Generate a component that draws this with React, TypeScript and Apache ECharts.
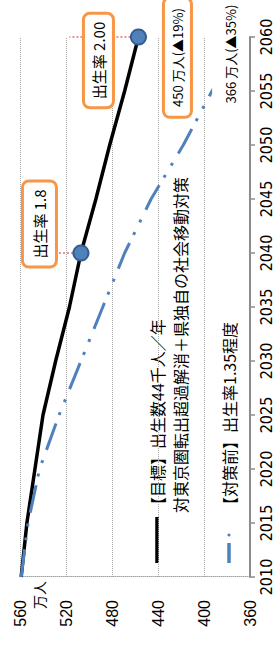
import React, { useEffect, useRef } from "react";
import * as echarts from "echarts";

// ---- data ----
const years = [2010, 2015, 2020, 2025, 2030, 2035, 2040, 2045, 2050, 2055, 2060];
const targetValues = [559, 554, 547, 540, 529, 517, 507, 494, 482, 469, 457];
const baselineValues = [559, 553, 543, 526, 507, 488, 469, 446, 418, 393, 366];
const valueTicks = { min: 360, max: 560, interval: 40 };
const yearTicks = { min: 2010, max: 2060, interval: 5 };
const legendTarget = ["【目標】出生数44千人／年", "対東京圏転出超過解消＋県独自の社会移動対策"];
const legendBaseline = "【対策前】出生率1.35程度";
const unitLabel = "万人";
const birthRate2040 = "出生率 1.8";
const birthRate2060 = "出生率 2.00";
const targetNote = "450 万人(▲19%)";
const baselineNote = "366 万人(▲35%)";

const W = 653;
const H = 280;
const CJK = "'Noto Sans CJK JP', sans-serif";
const ORANGE = "#f79646";
const BLUE = "#4f81bd";

export default function App() {
  const ref = useRef<HTMLDivElement>(null);
  useEffect(() => {
    if (!ref.current) return;
    const chart = echarts.init(ref.current, null, { renderer: "svg", width: W, height: H });

    const boxLabel = (text: string, offset: number[], fontSize: number, padding: number[]) => ({
      show: true,
      position: "inside",
      offset,
      formatter: text,
      color: "#000",
      fontSize,
      fontFamily: CJK,
      backgroundColor: "#fff",
      borderColor: ORANGE,
      borderWidth: 3,
      borderRadius: 5,
      padding,
    });

    const targetData = years.map((y, i) => {
      const v = targetValues[i];
      if (y === 2040) {
        return {
          value: [y, v],
          symbol: "circle",
          symbolSize: 15,
          label: boxLabel(birthRate2040, [29, -41.5], 15, [8, 7]),
        };
      }
      if (y === 2060) {
        return {
          value: [y, v],
          symbol: "circle",
          symbolSize: 15,
          label: boxLabel(birthRate2060, [-23.5, -40], 15, [6, 7]),
        };
      }
      return { value: [y, v] };
    });

    const baselineData = years.map((y, i) => [y, baselineValues[i]]);

    const last = years.length - 1;
    const i2040 = years.indexOf(2040);

    chart.setOption({
      animation: false,
      textStyle: { fontFamily: "'Liberation Sans', Arial, sans-serif" },
      grid: { left: 76, right: 37, top: 20, bottom: 30, containLabel: false },
      xAxis: {
        type: "value",
        min: yearTicks.min,
        max: yearTicks.max,
        interval: yearTicks.interval,
        axisLine: { show: true, lineStyle: { color: "#8c8c8c", width: 2 } },
        axisTick: { show: true, length: 5, lineStyle: { color: "#8c8c8c", width: 1.5 } },
        axisLabel: {
          margin: 8,
          fontSize: 16,
          color: "#000",
          fontFamily: "'Liberation Sans Narrow', 'DejaVu Sans Condensed', sans-serif",
          formatter: (v: number) => String(v),
        },
        splitLine: { show: false },
      },
      yAxis: {
        type: "value",
        min: valueTicks.min,
        max: valueTicks.max,
        interval: valueTicks.interval,
        axisLine: { show: true, lineStyle: { color: "#a6a6a6", width: 1, type: "dotted" } },
        axisTick: { show: false },
        axisLabel: { margin: 23, fontSize: 16, color: "#000", fontFamily: "'Liberation Sans', Arial, sans-serif" },
        splitLine: { show: true, lineStyle: { color: "#a6a6a6", width: 1, type: "dotted" } },
      },
      series: [
        {
          type: "line",
          z: 1,
          symbol: "none",
          silent: true,
          lineStyle: { color: "#e02020", width: 1, type: [2, 2] },
          data: [
            [years[last], targetValues[last]],
            [years[last], 517],
          ],
        },
        {
          type: "line",
          z: 1,
          symbol: "none",
          silent: true,
          lineStyle: { color: "#e02020", width: 1, type: [2, 2] },
          data: [
            [years[i2040], targetValues[i2040]],
            [years[i2040], 528],
          ],
        },
        {
          type: "line",
          name: "target",
          z: 3,
          symbol: "none",
          showSymbol: true,
          lineStyle: { color: "#000", width: 3.5 },
          itemStyle: { color: BLUE, borderColor: "#385d8a", borderWidth: 2 },
          data: targetData,
          markPoint: {
            symbol: "circle",
            symbolSize: 1,
            itemStyle: { color: "rgba(0,0,0,0)" },
            data: [
              {
                coord: [years[last], targetValues[last]],
                label: boxLabel(targetNote, [-20.5, 39], 13, [6, 9]),
              },
            ],
          },
        },
        {
          type: "line",
          name: "baseline",
          z: 4,
          symbol: "none",
          showSymbol: false,
          lineStyle: { color: BLUE, width: 3, type: [28, 9, 3, 11, 3, 11] },
          data: baselineData,
          markPoint: {
            symbol: "circle",
            symbolSize: 1,
            itemStyle: { color: "rgba(0,0,0,0)" },
            data: [
              {
                coord: [years[last], baselineValues[last]],
                label: {
                  show: true,
                  position: "inside",
                  offset: [-17, -13],
                  formatter: baselineNote,
                  color: "#000",
                  fontSize: 13,
                  fontFamily: CJK,
                  backgroundColor: "#fff",
                  padding: [10, 4, 13, 4],
                },
              },
            ],
          },
        },
      ],
      graphic: [
        {
          type: "text",
          x: 58,
          y: 39,
          style: { text: unitLabel, fontSize: 14, fontFamily: CJK, fill: "#000", align: "center", verticalAlign: "middle" },
        },
        {
          type: "line",
          shape: { x1: 90, y1: 157, x2: 136, y2: 157 },
          style: { stroke: "#000", lineWidth: 3.5 },
        },
        {
          type: "text",
          x: 140,
          y: 157,
          style: { text: legendTarget[0], fontSize: 16, fontFamily: CJK, fill: "#000", verticalAlign: "middle" },
        },
        {
          type: "text",
          x: 140,
          y: 180,
          style: { text: legendTarget[1], fontSize: 16, fontFamily: CJK, fill: "#000", verticalAlign: "middle" },
        },
        {
          type: "line",
          shape: { x1: 90, y1: 229, x2: 110, y2: 229 },
          style: { stroke: BLUE, lineWidth: 3.5 },
        },
        {
          type: "circle",
          shape: { cx: 118, cy: 229, r: 1.6 },
          style: { fill: BLUE },
        },
        {
          type: "text",
          x: 140,
          y: 229,
          style: { text: legendBaseline, fontSize: 16, fontFamily: CJK, fill: "#000", verticalAlign: "middle" },
        },
      ],
    });
    return () => chart.dispose();
  }, []);

  return (
    <div style={{ position: "fixed", left: 0, top: 0, width: H, height: W, overflow: "hidden", background: "#fff" }}>
      <div
        ref={ref}
        style={{
          position: "absolute",
          left: 0,
          top: 0,
          width: W,
          height: H,
          transformOrigin: "0 0",
          transform: `translate(0px, ${W}px) rotate(-90deg)`,
        }}
      />
    </div>
  );
}
